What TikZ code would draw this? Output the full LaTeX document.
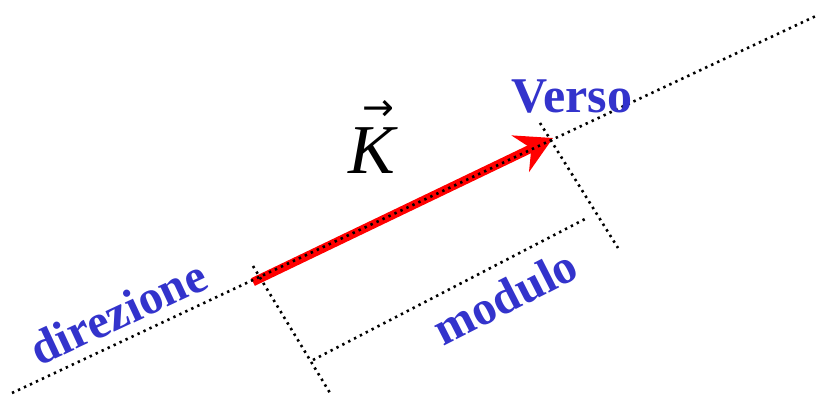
\documentclass[tikz,border=0pt]{standalone}
\usepackage{fontspec}
\setmainfont{Liberation Serif}
\newfontfamily\arrowfont{DejaVu Sans}
\usetikzlibrary{arrows.meta}
\definecolor{labelblue}{RGB}{51,51,204}

\begin{document}
\begin{tikzpicture}[x=1pt,y=1pt,
dotline/.style={line width=2.6pt,dash pattern=on 2.4pt off 4.2pt},
vecarr/.style={red,line width=8.5pt,-{Stealth[length=36pt,width=40pt,inset=12pt]}},
lbl/.style={text=labelblue,font=\bfseries\fontsize{48}{48}\selectfont}]
\useasboundingbox (0,0) rectangle (822,396);
% points of the picture
\coordinate (dirA) at (12,3);
\coordinate (dirB) at (818,381);
\coordinate (tail) at (253,114);
\coordinate (tip) at (553,258);
\coordinate (tickAtop) at (253,130);
\coordinate (tickAbot) at (330,3);
\coordinate (tickBtop) at (540,273);
\coordinate (tickBbot) at (618,148);
\coordinate (dimA) at (313,36);
\coordinate (dimB) at (587,178);
% the vector
\draw[vecarr] (tail) -- (tip);
% direction and measure lines
\draw[dotline] (dirA) -- (dirB);
\draw[dotline] (tickAtop) -- (tickAbot);
\draw[dotline] (tickBtop) -- (tickBbot);
\draw[dotline] (dimA) -- (dimB);
% labels
\node[align=center,inner sep=0pt] (kvec) at (372,259)
  {\hspace*{12pt}{\arrowfont\fontsize{38}{20}\selectfont →}\\[7pt]
   {\itshape\fontsize{70}{70}\selectfont K}};
\node[lbl,font=\bfseries\fontsize{50}{50}\selectfont] (verso) at (572,299) {Verso};
\node[lbl,rotate=25] (direz) at (118,84) {direzione};
\node[lbl,rotate=27] (mod) at (505,99) {modulo};
\end{tikzpicture}
\end{document}
